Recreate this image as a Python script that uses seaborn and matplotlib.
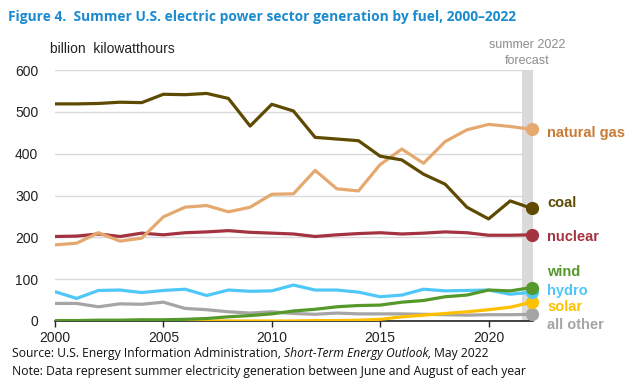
import numpy as np
import pandas as pd
import seaborn as sns
import matplotlib.pyplot as plt

years = list(range(2000, 2023))

coal = [519, 519, 520, 523, 522, 542, 541, 544, 532, 466, 518, 502, 439, 435,
        431, 394, 385, 351, 327, 272, 244, 287, 269]
natural_gas = [182, 186, 211, 191, 198, 249, 272, 276, 261, 272, 303, 304, 360, 316,
               311, 374, 411, 377, 429, 457, 470, 465, 458]
nuclear = [202, 203, 208, 202, 210, 206, 211, 213, 216, 212, 210, 208, 202, 206,
           209, 211, 208, 210, 213, 211, 205, 205, 206]
hydro = [70, 54, 73, 74, 68, 73, 76, 61, 74, 71, 72, 86, 74, 74,
         69, 58, 62, 76, 72, 73, 74, 64, 69]
wind = [1, 1, 2, 2, 3, 3, 4, 6, 10, 13, 17, 24, 28, 34,
        37, 38, 45, 49, 58, 62, 74, 72, 80]
solar = [0, 0, 0, 0, 0, 0, 0, 0, 0, 0, 0, 0, 1, 1,
         2, 4, 10, 14, 18, 22, 27, 33, 45]
all_other = [42, 42, 34, 41, 40, 45, 30, 27, 22, 19, 22, 18, 16, 19,
             17, 17, 17, 16, 15, 14, 15, 15, 16]

series = {"coal": coal, "natural gas": natural_gas, "nuclear": nuclear,
          "hydro": hydro, "wind": wind, "solar": solar, "all other": all_other}

line_colors = {"coal": "#5E4A00", "natural gas": "#E5A96F", "nuclear": "#A33340",
               "hydro": "#4FC8F8", "wind": "#56992B", "solar": "#FFC000",
               "all other": "#A5A5A5"}
label_colors = {"coal": "#5E4A00", "natural gas": "#C87B35", "nuclear": "#A33340",
                "hydro": "#4FC8F8", "wind": "#56992B", "solar": "#FFC000",
                "all other": "#A5A5A5"}
label_y = {"natural gas": 133, "coal": 203, "nuclear": 237, "wind": 272,
           "hydro": 291, "solar": 307, "all other": 325}

rows = []
for name, vals in series.items():
    for y, v in zip(years, vals):
        rows.append({"year": y, "value": v, "fuel": name})
df = pd.DataFrame(rows)

sns.set_style("white")
plt.rcParams['font.family'] = ['Liberation Sans', 'DejaVu Sans']

fig = plt.figure(figsize=(6.39, 3.84), dpi=100)
W, H = 639, 384
ax = fig.add_axes([55 / W, 1 - 321 / H, (533 - 55) / W, (321 - 70) / H])

# forecast band
ax.axvspan(2021.55, 2022.05, color="#DADADA", zorder=0, lw=0)

order = ["all other", "solar", "hydro", "wind", "nuclear", "natural gas", "coal"]
sns.lineplot(data=df, x="year", y="value", hue="fuel", hue_order=order,
             palette=line_colors, linewidth=2.3, legend=False, ax=ax, zorder=3)

last = df[df["year"] == 2022]
for name in order:
    v = last[last["fuel"] == name]["value"].iloc[0]
    ax.plot(2022, v, "o", color=line_colors[name], markersize=8.5, zorder=4, clip_on=False)

ax.set_xlim(2000, 2022.05)
ax.set_ylim(0, 600)
ax.set_yticks(range(0, 601, 100))
ax.set_xticks(range(2000, 2021, 5))
ax.yaxis.grid(True, color="#D9D9D9", linewidth=1)
ax.set_axisbelow(True)
for s in ["top", "right", "left"]:
    ax.spines[s].set_visible(False)
ax.spines["bottom"].set_color("#222222")
ax.spines["bottom"].set_linewidth(1.2)
ax.tick_params(axis="y", length=0, labelsize=10, colors="#222222", pad=12)
ax.tick_params(axis="x", length=4, width=1, color="#222222", labelsize=10,
               labelcolor="#222222", direction="out", bottom=True)
ax.set_xlabel("")
ax.set_ylabel("")

for name, yp in label_y.items():
    fig.text(547 / W, 1 - yp / H, name, color=label_colors[name], fontsize=10.5,
             fontweight="bold", va="center", ha="left")

fig.text(527 / W, 1 - 45 / H, "summer 2022", color="#8C8C8C", fontsize=9,
         ha="center", va="center")
fig.text(527 / W, 1 - 61 / H, "forecast", color="#8C8C8C", fontsize=9,
         ha="center", va="center")
fig.text(50 / W, 1 - 49 / H, "billion  kilowatthours", color="#222222", fontsize=10,
         ha="left", va="center")

fig.text(8 / W, 1 - 17 / H, "Figure 4.  Summer U.S. electric power sector generation by fuel, 2000\u20132022",
         color="#1B8BD0", fontsize=9.9, fontweight="bold", ha="left", va="center",
         family=["Open Sans", "DejaVu Sans"])

# source line with italic title
renderer = fig.canvas.get_renderer()
x0 = 12 / W
yy = 1 - 354 / H
parts = [("Source: U.S. Energy Information Administration, ", "normal"),
         ("Short-Term Energy Outlook,", "italic"),
         (" May 2022", "normal")]
for txt, style in parts:
    t = fig.text(x0, yy, txt, fontsize=8.7, style=style, color="#111111",
                 ha="left", va="center", family=["Open Sans", "DejaVu Sans"])
    bb = t.get_window_extent(renderer=renderer)
    x0 += bb.width / fig.bbox.width
fig.text(12 / W, 1 - 372 / H,
         "Note: Data represent summer electricity generation between June and August of each year",
         fontsize=8.8, color="#111111", ha="left", va="center",
         family=["Open Sans", "DejaVu Sans"])

fig.savefig("out.png", dpi=100)
